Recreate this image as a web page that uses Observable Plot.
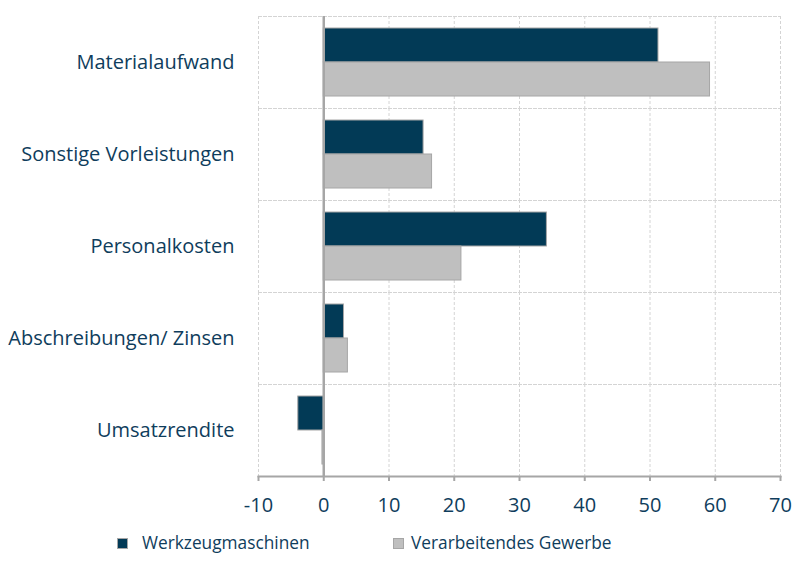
<!DOCTYPE html>
<html>
<head>
<meta charset="utf-8">
<script src="https://cdn.jsdelivr.net/npm/d3@7"></script>
<script src="https://cdn.jsdelivr.net/npm/@observablehq/plot@0.6"></script>
<style>
  body { margin: 0; background: #fff; font-family: "Open Sans", sans-serif; }
  #legend { position: relative; width: 792px; height: 59px; color: #0F3D5C; font-size: 17.3px; }
  #legend .sw { position: absolute; width: 11px; height: 11px; box-sizing: border-box; }
  #legend .lb { position: absolute; line-height: 24px; white-space: nowrap; }
</style>
</head>
<body>
<div id="chart"></div>
<div id="legend"></div>
<script>
const categories = ["Materialaufwand", "Sonstige Vorleistungen", "Personalkosten", "Abschreibungen/ Zinsen", "Umsatzrendite"];
const series = ["Werkzeugmaschinen", "Verarbeitendes Gewerbe"];
const werkzeugmaschinen = [51.3, 15.3, 34.2, 3.1, -3.9];
const verarbeitendesGewerbe = [59.2, 16.6, 21.1, 3.7, -0.2];
const xTicks = [-10, 0, 10, 20, 30, 40, 50, 60, 70];
const colors = ["#023A56", "#BFBFBF"];
const textColor = "#0F3D5C";

const values = [werkzeugmaschinen, verarbeitendesGewerbe];
const data = categories.flatMap((c, i) => series.map((s, j) => ({category: c, series: s, value: values[j][i]})));

const chart = Plot.plot({
  width: 792,
  height: 520,
  marginLeft: 258,
  marginRight: 12,
  marginTop: 14,
  marginBottom: 42,
  style: {fontFamily: "'Open Sans', sans-serif", fontSize: "20px", color: textColor, background: "white"},
  x: {domain: [-10, 70], label: null},
  fy: {domain: categories, padding: 0, label: null},
  y: {domain: series, paddingInner: 0, paddingOuter: 0.33, axis: null},
  color: {domain: series, range: colors},
  marks: [
    Plot.gridX(xTicks, {stroke: "#D4D4D4", strokeOpacity: 1, strokeDasharray: "3,2"}),
    Plot.frame({anchor: "top", stroke: "#D4D4D4", strokeDasharray: "3,2"}),
    Plot.barX(data, {fy: "category", y: "series", x: "value", fill: "series", stroke: "#A6A6A6", strokeWidth: 1}),
    Plot.ruleX([0], {stroke: "#A6A6A6", strokeWidth: 2.5}),
    Plot.frame({anchor: "bottom", fy: [categories[categories.length - 1]], stroke: "#A6A6A6", strokeWidth: 2}),
    Plot.axisX(xTicks, {tickSize: 5, tickPadding: 16, stroke: "#A6A6A6", strokeWidth: 2, fill: textColor, fontSize: 20, label: null, tickFormat: d => String(d)}),
    Plot.axisFy({anchor: "left", tickSize: 0, tickPadding: 24, label: null, fontSize: 20, fill: textColor})
  ]
});
document.getElementById("chart").appendChild(chart);

const legend = document.getElementById("legend");
const swX = [117, 393];
const lbX = [142, 411];
series.forEach((s, i) => {
  const sw = document.createElement("div");
  sw.className = "sw";
  sw.style.left = swX[i] + "px";
  sw.style.top = "18px";
  sw.style.background = colors[i];
  sw.style.border = "1px solid #A6A6A6";
  legend.appendChild(sw);
  const lb = document.createElement("div");
  lb.className = "lb";
  lb.style.left = lbX[i] + "px";
  lb.style.top = "11px";
  lb.textContent = s;
  legend.appendChild(lb);
});
</script>
</body>
</html>
